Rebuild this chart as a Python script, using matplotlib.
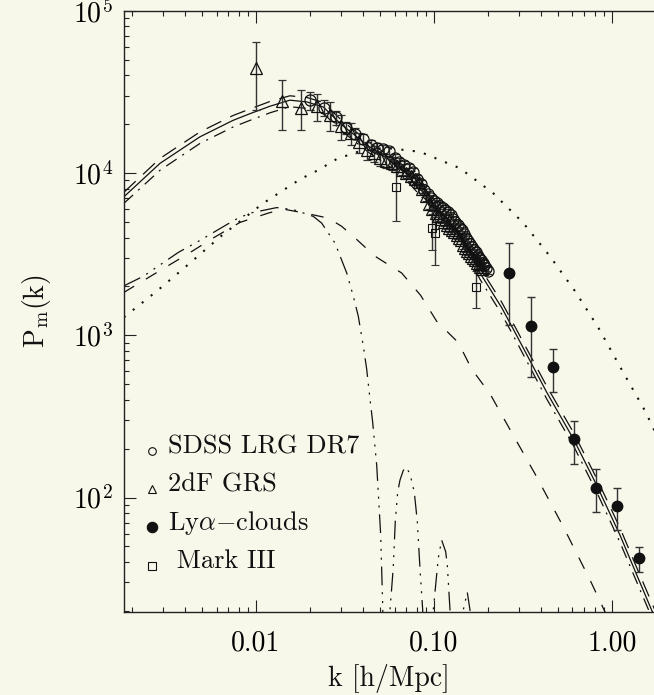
import matplotlib
matplotlib.use("Agg")
import matplotlib.pyplot as plt
from matplotlib.ticker import FixedLocator, FixedFormatter, LogLocator, NullFormatter

plt.rcParams["font.family"] = ["cmr10", "DejaVu Serif"]
plt.rcParams["mathtext.fontset"] = "cm"
plt.rcParams["axes.formatter.use_mathtext"] = True

BG = "#f7f7ea"
INK = "#111111"

# --- model curves -----------------------------------------------------------
k_solid = [0.00181, 0.00289, 0.00484, 0.00743, 0.00925, 0.0120, 0.0155, 0.0193, 0.0239, 0.0300,
           0.0437, 0.0644, 0.0949, 0.140, 0.181, 0.240, 0.279, 0.430, 0.607, 0.821, 1.109, 1.377, 1.744]
P_solid = [7130, 11470, 16700, 21100, 23200, 25800, 28100, 27400, 25500, 20000,
           14400, 10900, 6830, 4280, 2430, 1480, 1090, 445, 230, 119, 58.7, 33.4, 18.1]
P_longdash = [7600, 12300, 17900, 22600, 24800, 27600, 29900, 29200, 27200, 21300,
              15300, 11600, 7300, 4600, 2620, 1600, 1180, 485, 252, 131, 65, 37, 20.2]
P_dashdot = [6500, 10400, 15200, 19200, 21100, 23500, 25600, 25000, 23300, 18300,
             13200, 9950, 6250, 3920, 2220, 1350, 995, 405, 209, 108, 53, 30.2, 16.4]

k_dot = [0.00181, 0.00277, 0.00426, 0.00641, 0.0110, 0.0177, 0.0224, 0.0284, 0.0384, 0.0531,
         0.0834, 0.140, 0.215, 0.318, 0.448, 0.620, 0.838, 1.157, 1.532, 1.767]
P_dot = [1290, 1870, 2790, 4110, 6520, 9150, 10430, 12190, 13650, 14300,
         13510, 10690, 7510, 4910, 3070, 1870, 1115, 590, 343, 247]

k_dash = [0.00180, 0.00295, 0.00408, 0.00576, 0.00813, 0.01172, 0.01423, 0.01885, 0.02548, 0.0303,
          0.0352, 0.0466, 0.0658, 0.0842, 0.1035, 0.1369, 0.1628, 0.2066, 0.2505, 0.3694,
          0.5326, 0.7522, 0.8935, 1.04]
P_dash = [1830, 2540, 3140, 3980, 4960, 5660, 5990, 5660, 5270, 4690,
          4070, 3070, 2420, 1760, 1220, 902, 619, 435, 298, 140,
          66.1, 31.1, 20.8, 14.7]

k_osc = [0.00180, 0.00233, 0.00366, 0.00474, 0.00762, 0.00925, 0.01307, 0.0162, 0.0210, 0.02339,
         0.02779, 0.03233, 0.03521, 0.03756, 0.04006, 0.04186, 0.04369, 0.04524, 0.04766, 0.05018,
         0.05149, 0.0536, 0.0566, 0.0590, 0.0606, 0.0625, 0.0644, 0.0672, 0.0697, 0.0733,
         0.0775, 0.0806, 0.0834, 0.0864, 0.0925, 0.0991, 0.1035, 0.1057, 0.1104, 0.1163,
         0.1188, 0.1230, 0.1340, 0.1461, 0.1538, 0.1593, 0.172]
P_osc = [2010, 2310, 3240, 3790, 5150, 5660, 6120, 5950, 5400, 4910,
         3700, 2420, 1740, 1310, 860, 619, 405, 291, 158, 58.9,
         21.8, 1, 20.3, 36.7, 71, 108, 128, 147, 154, 140,
         108, 71, 36.7, 20.3, 1, 20.3, 33.4, 42.3, 54.7, 46.4,
         38.4, 20.3, 1, 20.3, 26.1, 20.3, 1]

# --- measurements -----------------------------------------------------------
sdss_k = [0.020, 0.024, 0.028, 0.032, 0.036, 0.040, 0.044, 0.048, 0.052, 0.056,
          0.060, 0.064, 0.068, 0.072, 0.076, 0.080, 0.084, 0.088, 0.092, 0.096,
          0.100, 0.104, 0.108, 0.112, 0.116, 0.120, 0.124, 0.128, 0.132, 0.136,
          0.140, 0.144, 0.148, 0.152, 0.156, 0.160, 0.164, 0.168, 0.172, 0.176,
          0.180, 0.184, 0.188, 0.192, 0.196, 0.200]
sdss_P = [28000, 25200, 22000, 19000, 17500, 16200, 14900, 14300, 14100, 13600,
          12400, 11700, 11200, 10800, 10200, 9200, 8600, 7900, 7400, 7000,
          6700, 6500, 6300, 6100, 5900, 5750, 5500, 5200, 5000, 4800,
          4600, 4450, 4200, 4000, 3800, 3650, 3500, 3350, 3250, 3100,
          3000, 2900, 2800, 2700, 2600, 2500]
sdss_err = [3500, 2800, 2200, 1700, 1400, 1200, 1000, 900, 850, 800,
            700, 650, 600, 560, 520, 470, 430, 400, 370, 350,
            330, 320, 300, 290, 280, 270, 260, 250, 240, 230,
            220, 210, 200, 190, 180, 175, 170, 160, 155, 150,
            145, 140, 135, 130, 125, 120]

tdf_k = [0.010, 0.014, 0.018, 0.022, 0.026, 0.030, 0.034, 0.038, 0.042, 0.046,
         0.050, 0.054, 0.058, 0.062, 0.066, 0.070, 0.074, 0.078, 0.082, 0.086,
         0.090, 0.094, 0.098, 0.102, 0.106, 0.110, 0.114, 0.118, 0.122, 0.126,
         0.130, 0.134, 0.138, 0.142, 0.146, 0.150, 0.154, 0.158, 0.162, 0.166,
         0.170, 0.174, 0.178, 0.182, 0.186]
tdf_P = [44500, 27800, 25300, 25800, 22700, 19400, 17600, 15500, 13800, 13200,
         12400, 11900, 11500, 11000, 10500, 10000, 9600, 9200, 8800, 8000,
         7200, 6400, 6000, 5700, 5400, 5200, 5000, 4800, 4600, 4450,
         4300, 4150, 4000, 3850, 3600, 3450, 3300, 3200, 3100, 3000,
         2900, 2800, 2750, 2650, 2550]
tdf_err = [20000, 9500, 7000, 5000, 4500, 3400, 2800, 2200, 1800, 1500,
           1300, 1100, 1000, 900, 800, 700, 650, 600, 550, 500,
           450, 400, 380, 350, 330, 310, 290, 270, 250, 240,
           230, 220, 210, 200, 190, 180, 170, 165, 160, 155,
           150, 145, 140, 135, 130]

lya_k = [0.265, 0.351, 0.465, 0.611, 0.810, 1.067, 1.418]
lya_P = [2420, 1140, 634, 230, 115, 88.4, 42.3]
lya_err = [1260, 590, 188, 68, 34, 25.5, 7.3]

mk3_k = [0.0612, 0.0977, 0.1013, 0.1715]
mk3_P = [8240, 4590, 4290, 1980]
mk3_err = [3200, 1220, 1590, 500]

legend_labels = ["SDSS LRG DR7", "2dF GRS", r"Ly$\alpha$$-$clouds", " Mark III"]

# --- figure -----------------------------------------------------------------
W, H = 654, 695
fig = plt.figure(figsize=(W / 100, H / 100), dpi=100, facecolor=BG)
ax = fig.add_axes([124 / W, (H - 611.7) / H, (W - 124) / W, (611.7 - 10.7) / H])
ax.set_facecolor(BG)
ax.set_xscale("log")
ax.set_yscale("log")
ax.set_xlim(0.001813, 1.722)
ax.set_ylim(19.8, 1.0e5)

lw = 0.9
ax.plot(k_solid, P_solid, color=INK, lw=lw, ls="-")
ax.plot(k_solid, P_longdash, color=INK, lw=lw, ls=(0, (13, 8)))
ax.plot(k_solid, P_dashdot, color=INK, lw=lw, ls=(0, (10, 5.5, 1.6, 5.5)))
ax.plot(k_dot, P_dot, color=INK, lw=1.5, ls=(0, (1.0, 4.5)))
ax.plot(k_dash, P_dash, color=INK, lw=lw, ls=(0, (10, 11)))
ax.plot(k_osc, P_osc, color=INK, lw=lw, ls=(0, (15, 5.5, 1.6, 5.5, 1.6, 5.5, 1.6, 5.5)))

eb = dict(ecolor="#333333", elinewidth=1.0, capsize=3, capthick=1.0, zorder=4)
ax.errorbar(tdf_k, tdf_P, yerr=tdf_err, fmt="^", ms=8, mfc="none", mec=INK, mew=0.9, **eb)
ax.errorbar(sdss_k, sdss_P, yerr=sdss_err, fmt="o", ms=8, mfc="none", mec=INK, mew=0.9, **eb)
ax.errorbar(lya_k, lya_P, yerr=lya_err, fmt="o", ms=7.5, mfc=INK, mec=INK, **eb)
ax.errorbar(mk3_k, mk3_P, yerr=mk3_err, fmt="s", ms=5.5, mfc="none", mec=INK, mew=0.8, **eb)

# hand-placed key in the lower-left corner
rows = [(0.2637, "o", "none", 5.5), (0.2000, "^", "none", 5.5),
        (0.1362, "o", INK, 7.5), (0.0724, "s", "none", 5.5)]
for (yb, mk, fc, ms), label in zip(rows, legend_labels):
    ax.plot([0.0528], [yb + 0.004], marker=mk, ms=ms, mfc=fc, mec=INK, mew=0.8,
            ls="none", transform=ax.transAxes, clip_on=False)
    ax.text(0.083, yb, label, transform=ax.transAxes, fontsize=19, va="baseline",
            ha="left", color=INK)

# axes, ticks, labels
ax.spines["right"].set_visible(False)
for side in ("left", "top", "bottom"):
    ax.spines[side].set_linewidth(1.0)
    ax.spines[side].set_color("#222222")

ax.xaxis.set_major_locator(FixedLocator([0.01, 0.1, 1.0]))
ax.xaxis.set_major_formatter(FixedFormatter(["0.01", "0.10", "1.00"]))
ax.xaxis.set_minor_locator(LogLocator(base=10, subs=range(2, 10), numticks=20))
ax.xaxis.set_minor_formatter(NullFormatter())
ax.yaxis.set_major_locator(FixedLocator([1e2, 1e3, 1e4, 1e5]))
ax.yaxis.set_major_formatter(FixedFormatter([r"$10^{2}$", r"$10^{3}$", r"$10^{4}$", r"$10^{5}$"]))
ax.yaxis.set_minor_locator(LogLocator(base=10, subs=range(2, 10), numticks=20))
ax.yaxis.set_minor_formatter(NullFormatter())

ax.tick_params(which="both", direction="in", top=True, right=False, width=0.8, color="#222222")
ax.tick_params(which="major", length=8.5, labelsize=20)
ax.tick_params(which="minor", length=3.8)
ax.tick_params(axis="x", which="major", pad=13)
ax.tick_params(axis="y", which="major", pad=8)

ax.set_xlabel("k [h/Mpc]", fontsize=20, labelpad=6, color=INK)
ax.set_ylabel(r"P$_{\rm m}$(k)", fontsize=20, labelpad=14, color=INK)

fig.savefig("out.png", dpi=100, facecolor=BG)
